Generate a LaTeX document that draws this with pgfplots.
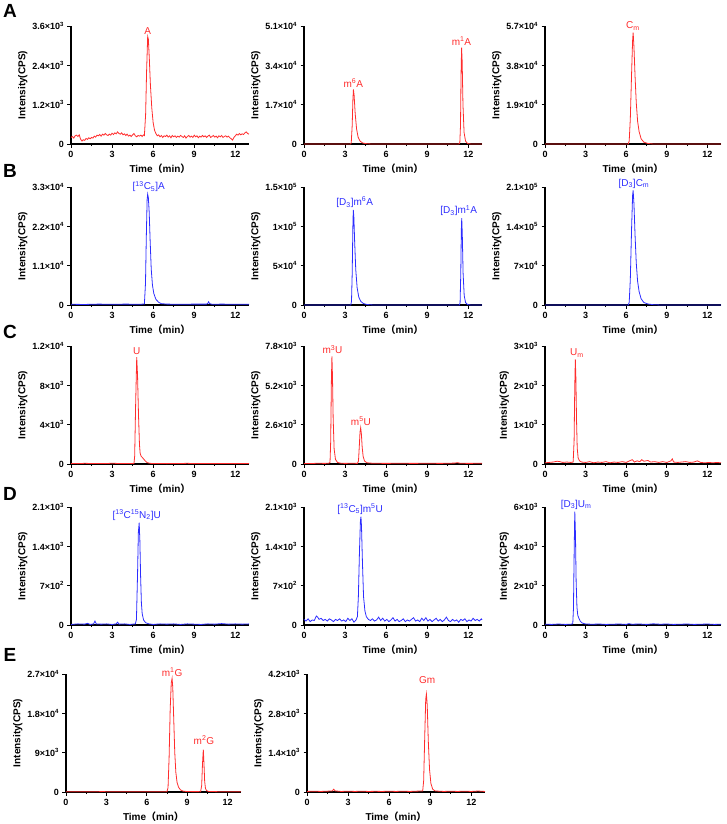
\documentclass[border=0pt]{standalone}
\usepackage{fontspec}
\setmainfont{Liberation Sans}
\newfontfamily\cjk{Noto Sans CJK SC}
\usepackage{pgfplots}
\pgfplotsset{compat=1.18}
\definecolor{cred}{RGB}{255,45,45}
\definecolor{cblue}{RGB}{45,45,255}
\pgfplotsset{
 chrom/.style={
  scale only axis, width=178pt, height=118pt,
  axis lines*=left, xmin=0, xmax=13, ymin=0,
  xtick={0,3,6,9,12}, minor xtick={1.5,4.5,7.5,10.5},
  tick align=outside, major tick length=3.5pt, minor tick length=2.2pt,
  axis line style={line width=1.1pt},
  every tick/.append style={black, line width=0.9pt},
  tick label style={font=\bfseries\fontsize{9}{10}\selectfont},
  /pgf/number format/assume math mode=true,
  scaled y ticks=false,
  xlabel={Time{\cjk （}min{\cjk ）}},
  ylabel={Intensity(CPS)},
  label style={font=\bfseries\fontsize{10}{11}\selectfont},
  xlabel shift=0pt, ylabel shift=-2pt,
  clip=false, anchor=south west,
  every axis plot/.append style={line width=0.8pt, no marks},
 },
}
\tikzset{pk/.style={font=\fontsize{10}{10}\selectfont, anchor=south, inner sep=1pt, yshift=1pt}}
\newcommand{\sx}[2]{#1×10\textsuperscript{#2}}
\begin{document}
\begin{tikzpicture}
\useasboundingbox (0,0) rectangle (726pt,-824pt);
\foreach \L/\Y in {A/11,B/171,C/332,D/494,E/655}{
  \node[font=\bfseries\fontsize{19}{19}\selectfont] at (10pt,-\Y pt) {\L};
}
% ---------------- Row A ----------------
\begin{axis}[chrom, at={(71pt,-144pt)}, ymax=3600, ytick={0,1200,2400,3600},
  yticklabels={0,\sx{1.2}{3},\sx{2.4}{3},\sx{3.6}{3}}]
\addplot[cred] coordinates {(0.0,200)(0.1,230)(0.2,180)(0.3,250)(0.4,270)(0.5,230)(0.6,280)(0.7,150)(0.8,90)(0.9,130)(1.0,110)(1.1,170)(1.2,140)(1.3,190)(1.4,160)(1.5,200)(1.6,180)(1.7,240)(1.8,210)(1.9,270)(2.0,250)(2.1,290)(2.2,240)(2.3,300)(2.4,270)(2.5,320)(2.6,280)(2.7,260)(2.8,300)(2.9,270)(3.0,330)(3.1,290)(3.2,340)(3.3,310)(3.4,370)(3.5,320)(3.6,300)(3.7,340)(3.8,280)(3.9,310)(4.0,260)(4.1,300)(4.2,240)(4.3,270)(4.4,230)(4.5,280)(4.6,320)(4.7,250)(4.8,220)(4.9,260)(5.0,240)(5.1,270)(5.2,230)(5.3,280)(5.36,260)(5.45,900)(5.52,2200)(5.6,3280)(5.65,3200)(5.72,2600)(5.8,1800)(5.9,1100)(6.0,650)(6.1,420)(6.2,320)(6.3,250)(6.4,280)(6.5,220)(6.6,260)(6.7,200)(6.8,250)(6.9,230)(7.0,270)(7.1,210)(7.2,250)(7.3,190)(7.4,260)(7.5,220)(7.6,250)(7.7,200)(7.8,240)(7.9,210)(8.0,260)(8.1,230)(8.2,200)(8.3,250)(8.4,180)(8.5,230)(8.6,260)(8.7,210)(8.8,240)(8.9,200)(9.0,270)(9.1,220)(9.2,250)(9.3,190)(9.4,240)(9.5,210)(9.6,260)(9.7,220)(9.8,250)(9.9,200)(10.0,240)(10.1,270)(10.2,200)(10.3,230)(10.4,260)(10.5,210)(10.6,240)(10.7,190)(10.8,250)(10.9,220)(11.0,260)(11.1,200)(11.2,230)(11.3,250)(11.4,210)(11.5,240)(11.6,190)(11.7,160)(11.8,120)(11.9,200)(12.0,250)(12.1,300)(12.2,270)(12.3,320)(12.4,280)(12.5,310)(12.6,290)(12.7,340)(12.8,370)(12.9,320)(13.0,300)};
\node[pk,text=cred] at (axis cs:5.6,3280) {A};
\end{axis}
\begin{axis}[chrom, at={(304pt,-144pt)}, ymax=51000, ytick={0,17000,34000,51000},
  yticklabels={0,\sx{1.7}{4},\sx{3.4}{4},\sx{5.1}{4}}]
\addplot[cred] coordinates {(0,0)(3.4,0)(3.45,500)(3.52,8000)(3.57,19000)(3.61,23600)(3.66,21000)(3.74,13000)(3.84,6500)(3.95,3000)(4.1,1200)(4.3,400)(4.6,100)(5,0)(11.3,0)(11.38,500)(11.43,8000)(11.47,30000)(11.51,41600)(11.55,36000)(11.61,17000)(11.69,5000)(11.8,1200)(11.95,200)(12.2,0)(13,0)};
\node[pk,text=cred] at (axis cs:3.6,23600) {m\textsuperscript{6}A};
\node[pk,text=cred] at (axis cs:11.5,41600) {m\textsuperscript{1}A};
\end{axis}
\begin{axis}[chrom, width=176pt, at={(545pt,-144pt)}, ymax=57000, ytick={0,19000,38000,57000},
  yticklabels={0,\sx{1.9}{4},\sx{3.8}{4},\sx{5.7}{4}}]
\addplot[cred] coordinates {(0,0)(6.15,0)(6.22,1500)(6.3,12000)(6.4,35000)(6.47,50000)(6.51,53800)(6.57,47000)(6.65,33000)(6.74,20000)(6.84,11000)(6.95,6000)(7.1,2500)(7.3,900)(7.6,250)(8,0)(13,0)};
\node[pk,text=cred] at (axis cs:6.5,53800) {C\textsubscript{m}};
\end{axis}
% ---------------- Row B ----------------
\begin{axis}[chrom, at={(71pt,-305pt)}, ymax=33000, ytick={0,11000,22000,33000},
  yticklabels={0,\sx{1.1}{4},\sx{2.2}{4},\sx{3.3}{4}}]
\addplot[cblue] coordinates {(0,200)(1,150)(2,250)(3,200)(4,250)(5,200)(5.36,280)(5.44,6000)(5.5,19000)(5.56,29500)(5.6,31000)(5.65,30000)(5.71,26000)(5.78,18000)(5.86,10000)(5.95,5500)(6.05,3200)(6.2,1600)(6.4,750)(6.6,380)(7,250)(8,200)(9,250)(9.9,250)(10.0,500)(10.05,900)(10.12,400)(10.3,200)(11,250)(12,200)(13,200)};
\node[pk,text=cblue] at (axis cs:5.68,31000) {[\textsuperscript{13}C\textsubscript{5}]A};
\end{axis}
\begin{axis}[chrom, at={(304pt,-305pt)}, ymax=150000, ytick={0,50000,100000,150000},
  yticklabels={0,\sx{5}{4},\sx{1}{5},\sx{1.5}{5}}]
\addplot[cblue] coordinates {(0,0)(3.42,0)(3.47,5000)(3.52,40000)(3.57,100000)(3.6,121000)(3.64,112000)(3.7,80000)(3.78,45000)(3.88,22000)(4.0,10000)(4.15,4500)(4.35,1800)(4.6,600)(5,100)(5.5,0)(11.35,0)(11.4,3000)(11.45,40000)(11.49,95000)(11.52,110500)(11.56,90000)(11.62,40000)(11.7,12000)(11.8,3000)(11.95,500)(12.2,0)(13,0)};
\node[pk,text=cblue] at (axis cs:3.7,121000) {[D\textsubscript{3}]m\textsuperscript{6}A};
\node[pk,text=cblue] at (axis cs:11.3,110500) {[D\textsubscript{3}]m\textsuperscript{1}A};
\end{axis}
\begin{axis}[chrom, width=176pt, at={(545pt,-305pt)}, ymax=210000, ytick={0,70000,140000,210000},
  yticklabels={0,\sx{7}{4},\sx{1.4}{5},\sx{2.1}{5}}]
\addplot[cblue] coordinates {(0,0)(6.15,0)(6.22,5000)(6.3,45000)(6.4,140000)(6.47,195000)(6.51,204000)(6.57,180000)(6.65,125000)(6.74,75000)(6.84,42000)(6.95,24000)(7.1,11000)(7.3,4500)(7.6,1800)(8.0,600)(8.5,100)(9,0)(13,0)};
\node[pk,text=cblue] at (axis cs:6.57,204000) {[D\textsubscript{3}]C\textsubscript{m}};
\end{axis}
% ---------------- Row C ----------------
\begin{axis}[chrom, at={(71pt,-464pt)}, ymax=12000, ytick={0,4000,8000,12000},
  yticklabels={0,\sx{4}{3},\sx{8}{3},\sx{1.2}{4}}]
\addplot[cred] coordinates {(0,60)(0.5,40)(1,70)(1.5,50)(2,60)(2.5,40)(3,80)(3.5,50)(4,60)(4.5,50)(4.6,60)(4.65,800)(4.72,6000)(4.8,10860)(4.86,9000)(4.93,5000)(5.0,2000)(5.05,1100)(5.12,800)(5.25,600)(5.4,350)(5.55,150)(5.75,70)(6,50)(6.5,60)(7,40)(7.5,60)(8,50)(8.5,70)(9,40)(9.5,60)(10,50)(10.5,40)(11,60)(11.5,50)(12,40)(12.5,60)(13,50)};
\node[pk,text=cred] at (axis cs:4.8,10860) {U};
\end{axis}
\begin{axis}[chrom, at={(304pt,-464pt)}, ymax=7800, ytick={0,2600,5200,7800},
  yticklabels={0,\sx{2.6}{3},\sx{5.2}{3},\sx{7.8}{3}}]
\addplot[cred] coordinates {(0,40)(0.5,30)(1,50)(1.5,40)(1.8,50)(1.9,100)(1.95,1500)(2.0,5500)(2.04,7120)(2.08,5800)(2.13,3000)(2.2,1000)(2.3,300)(2.45,100)(2.7,50)(3,40)(3.5,50)(3.9,40)(3.98,200)(4.04,1200)(4.09,2100)(4.14,2400)(4.19,2000)(4.25,1100)(4.32,500)(4.42,200)(4.6,80)(5,50)(6,40)(7,50)(8,40)(9,50)(10,40)(11,60)(11.2,90)(11.4,50)(12,40)(13,50)};
\node[pk,text=cred] at (axis cs:2.08,7120) {m\textsuperscript{3}U};
\node[pk,text=cred] at (axis cs:4.16,2400) {m\textsuperscript{5}U};
\end{axis}
\begin{axis}[chrom, width=176pt, at={(545pt,-464pt)}, ymax=3000, ytick={0,1000,2000,3000},
  yticklabels={0,\sx{1}{3},\sx{2}{3},\sx{3}{3}}]
\addplot[cred] coordinates {(0,30)(0.3,40)(0.6,50)(0.9,70)(1.1,60)(1.3,40)(1.6,50)(1.9,40)(2.08,50)(2.15,600)(2.2,2000)(2.24,2660)(2.28,2200)(2.33,1100)(2.38,400)(2.45,150)(2.55,80)(2.7,50)(3.0,40)(3.3,60)(3.6,30)(3.9,50)(4.2,40)(4.5,60)(4.8,30)(5.1,50)(5.4,40)(5.7,60)(6.0,40)(6.3,90)(6.45,110)(6.6,50)(6.8,80)(7.0,60)(7.15,110)(7.3,70)(7.6,90)(7.8,50)(8.1,60)(8.4,40)(8.7,60)(9.0,40)(9.3,80)(9.4,130)(9.5,50)(9.8,40)(10.1,50)(10.4,60)(10.7,40)(11.0,50)(11.25,80)(11.5,40)(11.8,30)(12.1,40)(12.4,30)(12.7,40)(13,30)};
\node[pk,text=cred] at (axis cs:2.36,2660) {U\textsubscript{m}};
\end{axis}
% ---------------- Row D ----------------
\begin{axis}[chrom, at={(71pt,-625pt)}, ymax=2100, ytick={0,700,1400,2100},
  yticklabels={0,\sx{7}{2},\sx{1.4}{3},\sx{2.1}{3}}]
\addplot[cblue] coordinates {(0,10)(0.5,20)(1.0,15)(1.2,30)(1.4,10)(1.65,20)(1.75,70)(1.85,20)(2.2,15)(2.6,20)(3.0,10)(3.3,20)(3.4,50)(3.5,15)(3.9,20)(4.3,10)(4.7,20)(4.78,100)(4.86,900)(4.92,1650)(4.98,1820)(5.03,1500)(5.08,900)(5.14,400)(5.2,200)(5.3,90)(5.45,40)(5.7,20)(6,10)(6.5,20)(7,15)(7.5,20)(8,10)(8.5,20)(9,15)(9.5,10)(10,20)(10.5,15)(11,25)(11.5,15)(12,20)(12.5,15)(13,20)};
\node[pk,text=cblue] at (axis cs:4.8,1820) {[\textsuperscript{13}C\textsuperscript{15}N\textsubscript{2}]U};
\end{axis}
\begin{axis}[chrom, at={(304pt,-625pt)}, ymax=2100, ytick={0,700,1400,2100},
  yticklabels={0,\sx{7}{2},\sx{1.4}{3},\sx{2.1}{3}}]
\addplot[cblue] coordinates {(0,100)(0.15,70)(0.3,110)(0.45,60)(0.6,90)(0.75,80)(0.9,160)(1.0,140)(1.1,100)(1.25,120)(1.4,80)(1.55,100)(1.7,70)(1.85,110)(2.0,90)(2.15,60)(2.3,100)(2.45,80)(2.6,110)(2.75,70)(2.9,90)(3.05,60)(3.2,120)(3.35,80)(3.5,110)(3.65,50)(3.8,90)(3.9,150)(3.97,500)(4.05,1300)(4.12,1850)(4.16,1930)(4.2,1750)(4.27,1100)(4.35,500)(4.45,250)(4.55,150)(4.7,100)(4.85,80)(5.0,110)(5.15,70)(5.3,90)(5.45,140)(5.6,80)(5.75,120)(5.9,70)(6.05,100)(6.2,60)(6.35,90)(6.5,130)(6.65,70)(6.8,100)(6.95,60)(7.1,80)(7.25,110)(7.4,60)(7.55,90)(7.7,70)(7.85,100)(8.0,130)(8.15,70)(8.3,90)(8.45,60)(8.6,120)(8.75,80)(8.9,130)(9.05,70)(9.2,100)(9.35,60)(9.5,90)(9.65,120)(9.8,70)(9.95,100)(10.1,60)(10.25,90)(10.4,140)(10.55,80)(10.7,60)(10.85,100)(11.0,70)(11.15,90)(11.3,50)(11.45,100)(11.6,80)(11.75,110)(11.9,60)(12.05,90)(12.2,70)(12.35,120)(12.5,80)(12.65,100)(12.8,70)(12.95,110)(13,90)};
\node[pk,text=cblue] at (axis cs:4.1,1930) {[\textsuperscript{13}C\textsubscript{5}]m\textsuperscript{5}U};
\end{axis}
\begin{axis}[chrom, width=176pt, at={(545pt,-625pt)}, ymax=6000, ytick={0,2000,4000,6000},
  yticklabels={0,\sx{2}{3},\sx{4}{3},\sx{6}{3}}]
\addplot[cblue] coordinates {(0,40)(0.5,30)(1,50)(1.5,30)(1.9,40)(2.05,60)(2.1,800)(2.16,4000)(2.2,5770)(2.25,4600)(2.3,2200)(2.36,900)(2.42,500)(2.5,350)(2.6,200)(2.75,100)(3.0,50)(3.5,40)(4,50)(4.5,30)(5,40)(5.5,50)(6,30)(6.2,70)(6.4,40)(7,50)(7.5,30)(8,60)(8.5,40)(9,50)(9.5,30)(10,40)(10.5,50)(11,30)(11.5,40)(12,50)(12.5,30)(13,40)};
\node[pk,text=cblue] at (axis cs:2.3,5770) {[D\textsubscript{3}]U\textsubscript{m}};
\end{axis}
% ---------------- Row E ----------------
\begin{axis}[chrom, width=175pt, at={(66pt,-792pt)}, ymax=27000, ytick={0,9000,18000,27000},
  yticklabels={0,\sx{9}{3},\sx{1.8}{4},\sx{2.7}{4}}]
\addplot[cred] coordinates {(0,50)(1,40)(2,60)(2.85,100)(3,50)(4,60)(5,40)(6,50)(7,60)(7.5,80)(7.58,1000)(7.66,8000)(7.74,19000)(7.82,25000)(7.88,26000)(7.93,24000)(8.0,17000)(8.08,9000)(8.16,4500)(8.25,2200)(8.36,1100)(8.5,500)(8.7,200)(9.0,100)(10.0,80)(10.08,1500)(10.14,6500)(10.2,9700)(10.25,6500)(10.3,2500)(10.36,800)(10.45,300)(10.6,120)(11,100)(11.5,60)(12,50)(12.5,40)(13,50)};
\node[pk,text=cred] at (axis cs:7.88,26000) {m\textsuperscript{1}G};
\node[pk,text=cred,yshift=3pt] at (axis cs:10.25,9700) {m\textsuperscript{2}G};
\end{axis}
\begin{axis}[chrom, at={(307pt,-792pt)}, ymax=4200, ytick={0,1400,2800,4200},
  yticklabels={0,\sx{1.4}{3},\sx{2.8}{3},\sx{4.2}{3}}]
\addplot[cred] coordinates {(0,20)(0.5,30)(1,20)(1.5,30)(1.85,40)(1.95,100)(2.05,40)(2.5,20)(3,30)(3.5,20)(4,30)(4.5,20)(5,25)(5.5,20)(6,30)(6.5,20)(7,30)(7.5,20)(8,30)(8.45,40)(8.52,400)(8.6,2000)(8.67,3300)(8.72,3490)(8.78,3100)(8.86,1800)(8.95,800)(9.05,300)(9.18,100)(9.35,40)(9.6,30)(10,20)(10.5,30)(11,20)(11.5,30)(12,20)(12.5,35)(13,20)};
\node[pk,text=cred,yshift=8pt] at (axis cs:8.77,3490) {Gm};
\end{axis}
\end{tikzpicture}
\end{document}
